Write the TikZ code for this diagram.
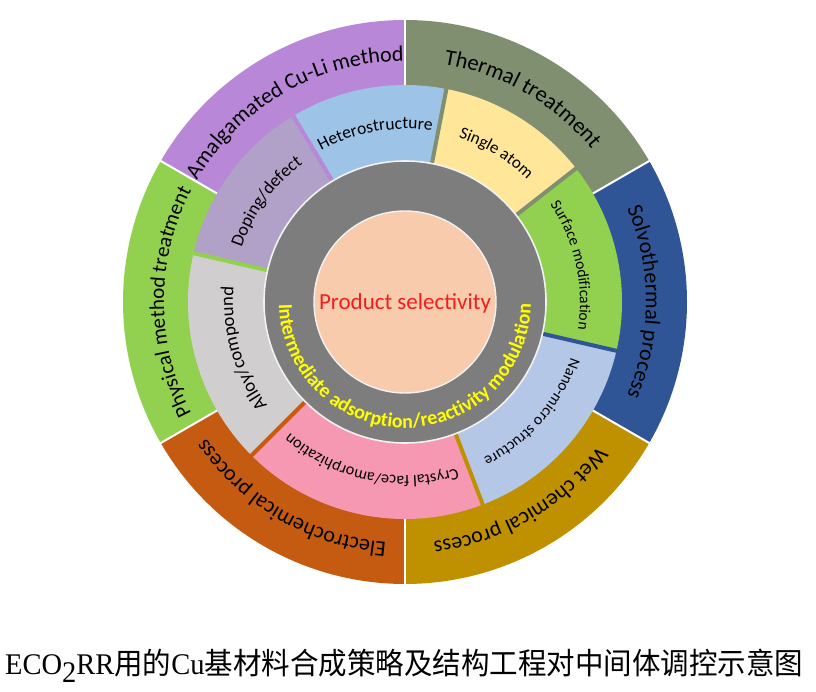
\documentclass[tikz,border=0pt]{standalone}
\usepackage{fontspec}
\usepackage{graphicx}
\setmainfont{Carlito}
\newfontfamily\cjkfont{Noto Sans CJK SC}
\newfontfamily\capfont{Liberation Serif}
\usetikzlibrary{decorations.text}
\definecolor{cAmal}{RGB}{185,135,215}
\definecolor{cTherm}{RGB}{127,143,112}
\definecolor{cSolvo}{RGB}{47,85,151}
\definecolor{cWet}{RGB}{191,144,0}
\definecolor{cElec}{RGB}{197,90,17}
\definecolor{cPhys}{RGB}{146,208,80}
\definecolor{cHetero}{RGB}{157,195,230}
\definecolor{cSingle}{RGB}{255,230,153}
\definecolor{cSurf}{RGB}{146,208,80}
\definecolor{cNano}{RGB}{180,199,231}
\definecolor{cCrys}{RGB}{246,152,178}
\definecolor{cAlloy}{RGB}{208,206,206}
\definecolor{cDop}{RGB}{177,160,199}
\definecolor{cGray}{RGB}{125,125,125}
\definecolor{cPeach}{RGB}{248,203,173}
\definecolor{cRed}{RGB}{240,30,30}
\definecolor{cYel}{RGB}{255,255,0}
\tikzset{
  arclabel/.style={decorate, decoration={text along path, text align=center, text={#1}}},
}
\begin{document}
\begin{tikzpicture}[x=1pt,y=1pt]
\useasboundingbox (0,0) rectangle (816,691);
\coordinate (O) at (405,389);
% outer sectors
\foreach \a/\b/\c in {30/90/cTherm,90/150/cAmal,150/210/cPhys,210/270/cElec,270/330/cWet,330/390/cSolvo}
  \fill[\c] (O) -- ([shift={(\a:282)}]O) arc[start angle=\a,end angle=\b,radius=282] -- cycle;
\foreach \a in {30,90,150,210,270,330}
  \draw[white, line width=2pt] ([shift={(\a:212)}]O) -- ([shift={(\a:284)}]O);
% middle sectors
\foreach \a/\b/\c in {79/121/cHetero,121/167/cDop,167/225/cAlloy,225/291/cCrys,291/347/cNano,347/398/cSurf,38/79/cSingle}
  \fill[\c] ([shift={(\a:135)}]O) arc[start angle=\a,end angle=\b,radius=135] -- ([shift={(\b:217)}]O) arc[start angle=\b,end angle=\a,radius=217] -- cycle;
\foreach \a/\c in {79/cTherm,121/cAmal,167/cPhys,225/cElec,291/cWet,347/cSolvo,38/cTherm}
  \draw[\c, line width=4pt] ([shift={(\a:135)}]O) -- ([shift={(\a:219)}]O);
% gray ring and centre
\fill[cGray] (O) circle[radius=141];
\draw[white!90!gray, line width=1.6pt] (O) circle[radius=141];
\fill[cPeach] (O) circle[radius=91];
\draw[white!90!gray, line width=1.4pt] (O) circle[radius=91];
\node[text=cRed, font=\fontsize{23}{26}\selectfont] (ps) at ([yshift=-1pt]O) {Product selectivity};
% outer labels
\path[arclabel={|\fontsize{22.5}{26}\selectfont|Thermal treatment}] ([shift={(90:241)}]O) arc[start angle=90,end angle=30,radius=241];
\path[arclabel={|\fontsize{22}{26}\selectfont|Amalgamated Cu-Li method}] ([shift={(150:241)}]O) arc[start angle=150,end angle=90,radius=241];
\path[arclabel={|\fontsize{21}{26}\selectfont|Physical method treatment}] ([shift={(210:241)}]O) arc[start angle=210,end angle=150,radius=241];
\path[arclabel={|\fontsize{22}{26}\selectfont|Electrochemical process}] ([shift={(270:241)}]O) arc[start angle=270,end angle=210,radius=241];
\path[arclabel={|\fontsize{22}{26}\selectfont|Wet chemical process}] ([shift={(330:241)}]O) arc[start angle=330,end angle=270,radius=241];
\path[arclabel={|\fontsize{22}{26}\selectfont|Solvothermal process}] ([shift={(30:241)}]O) arc[start angle=30,end angle=-30,radius=241];
% middle labels
\path[arclabel={|\fontsize{17.5}{20}\selectfont|Heterostructure}] ([shift={(121:173)}]O) arc[start angle=121,end angle=79,radius=173];
\path[arclabel={|\fontsize{17}{20}\selectfont|Single atom}] ([shift={(79:173)}]O) arc[start angle=79,end angle=38,radius=173];
\path[arclabel={|\fontsize{15.6}{18}\selectfont|Surface modification}] ([shift={(38:175)}]O) arc[start angle=38,end angle=-13,radius=175];
\path[arclabel={|\fontsize{15.6}{18}\selectfont|Nano-micro structure}] ([shift={(-13:175)}]O) arc[start angle=-13,end angle=-69,radius=175];
\path[arclabel={|\fontsize{16.2}{18}\selectfont|Crystal face/amorphization}] ([shift={(291:174)}]O) arc[start angle=291,end angle=225,radius=174];
\path[arclabel={|\fontsize{18.5}{20}\selectfont|Alloy/compound}] ([shift={(225:172)}]O) arc[start angle=225,end angle=167,radius=172];
\path[arclabel={|\fontsize{18}{20}\selectfont|Doping/defect}] ([shift={(167:172)}]O) arc[start angle=167,end angle=121,radius=172];
% gray ring label
\path[arclabel={|\fontsize{20}{24}\selectfont\bfseries\color{cYel}|Intermediate adsorption/reactivity modulation}] ([shift={(170:126)}]O) arc[start angle=170,end angle=370,radius=126];
% caption
\node[anchor=base west, inner sep=0pt] (cap) at (5,17) {\resizebox{798pt}{\height}{\fontsize{30}{34}\selectfont{\capfont ECO\raisebox{-0.28em}{2}RR}{\cjkfont 用的}{\capfont Cu}{\cjkfont 基材料合成策略及结构工程对中间体调控示意图}}};
\end{tikzpicture}
\end{document}
